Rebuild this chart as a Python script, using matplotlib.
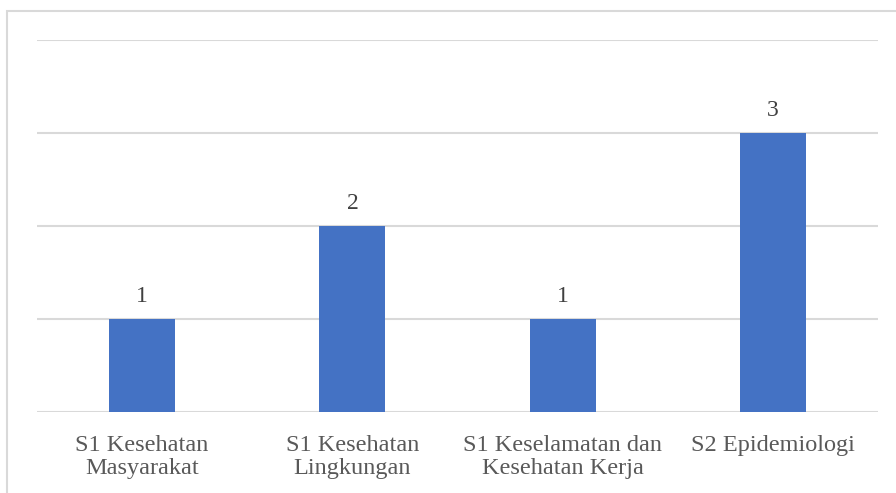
import matplotlib.pyplot as plt
from matplotlib.patches import Rectangle

categories = ["S1 Kesehatan\nMasyarakat", "S1 Kesehatan\nLingkungan",
              "S1 Keselamatan dan\nKesehatan Kerja", "S2 Epidemiologi"]
values = [1, 2, 1, 3]

plt.rcParams["font.family"] = ["Liberation Serif", "DejaVu Serif"]

fig = plt.figure(figsize=(8.96, 4.93), dpi=100)
ax = fig.add_axes([37 / 896, 1 - 412 / 493, 841 / 896, 372 / 493])

# chart-area border (runs off the right and bottom of the image)
fig.patches.append(Rectangle((7 / 896, -0.1), 1.0, 1 - 11 / 493 + 0.1,
                             transform=fig.transFigure, fill=False,
                             edgecolor="#d9d9d9", linewidth=1.5))

x = range(len(categories))
bars = ax.bar(x, values, width=0.315, color="#4472C4", zorder=3)
for b, v in zip(bars, values):
    ax.text(b.get_x() + b.get_width() / 2, v + 0.13, str(v), ha="center",
            va="bottom", fontsize=17, color="#404040")

ax.set_xlim(-0.5, len(categories) - 0.5)
ax.set_ylim(0, 4)
ax.set_yticks([0, 1, 2, 3, 4])
ax.yaxis.grid(True, color="#d9d9d9", linewidth=1.5, zorder=0)
ax.tick_params(axis="y", left=False, labelleft=False)
ax.tick_params(axis="x", bottom=False, labelsize=17.5, labelcolor="#595959", pad=13)
ax.set_xticks(list(x))
ax.set_xticklabels(categories, linespacing=1.12)
for s in ax.spines.values():
    s.set_visible(False)

fig.savefig("out.png", dpi=100)
